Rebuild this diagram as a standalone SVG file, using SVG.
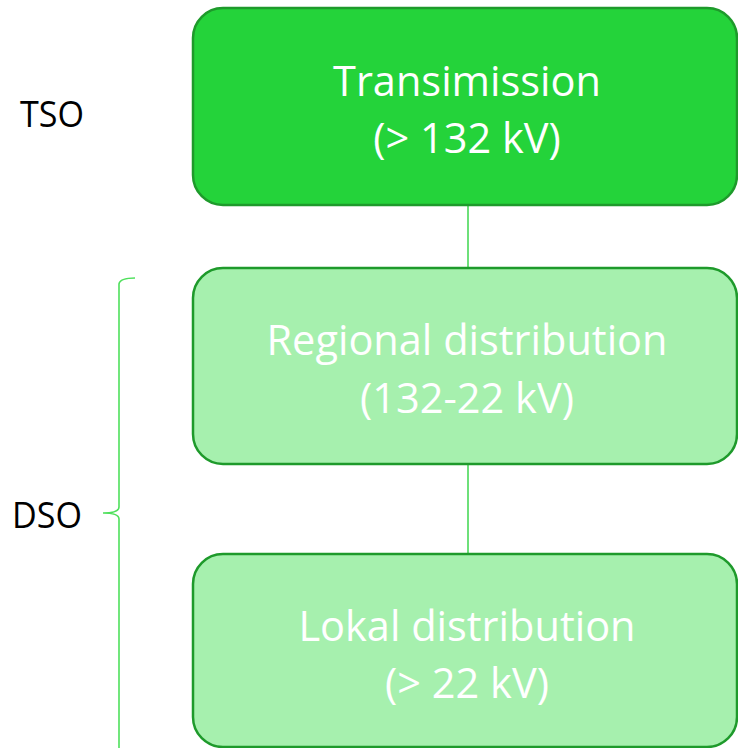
<svg xmlns="http://www.w3.org/2000/svg" width="738" height="748" viewBox="0 0 738 748">
<style>
.box{stroke:#1e9a2b;stroke-width:2.5}
.dark{fill:#24d33a}
.light{fill:#a6f0ae}
.t{font-family:"Open Sans","Liberation Sans",sans-serif;font-size:41.5px;fill:#ffffff;text-anchor:middle}
.lbl{font-family:"Open Sans","Liberation Sans",sans-serif;font-size:37px;fill:#000000}
.conn{stroke:#6ee07a;stroke-width:2;fill:none}
.brace{stroke:#4fe05c;stroke-width:1.6;fill:none}
</style>
<rect width="738" height="748" fill="#ffffff"/>
<g id="connectors">
<line class="conn" x1="468" y1="205" x2="468" y2="268"/>
<line class="conn" x1="468" y1="464" x2="468" y2="554"/>
</g>
<g id="tso">
<text class="lbl" x="20" y="127" textLength="64" lengthAdjust="spacingAndGlyphs">TSO</text>
</g>
<g id="dso">
<text class="lbl" x="12" y="528" textLength="70" lengthAdjust="spacingAndGlyphs">DSO</text>
<path class="brace" d="M135,278 Q120,278 119,284 L119,507 Q119,513 103,513 Q119,513 119,519 L119,750"/>
</g>
<g id="transmission">
<rect class="box dark" x="193" y="8" width="544" height="197" rx="30"/>
<text class="t" x="467" y="96">Transimission</text>
<text class="t" x="467" y="153">(&gt; 132 kV)</text>
</g>
<g id="regional">
<rect class="box light" x="193" y="268" width="544" height="196" rx="30"/>
<text class="t" x="467" y="355">Regional distribution</text>
<text class="t" x="467" y="413">(132-22 kV)</text>
</g>
<g id="lokal">
<rect class="box light" x="193" y="554" width="544" height="193" rx="30"/>
<text class="t" x="467" y="641">Lokal distribution</text>
<text class="t" x="467" y="698">(&gt; 22 kV)</text>
</g>
</svg>
